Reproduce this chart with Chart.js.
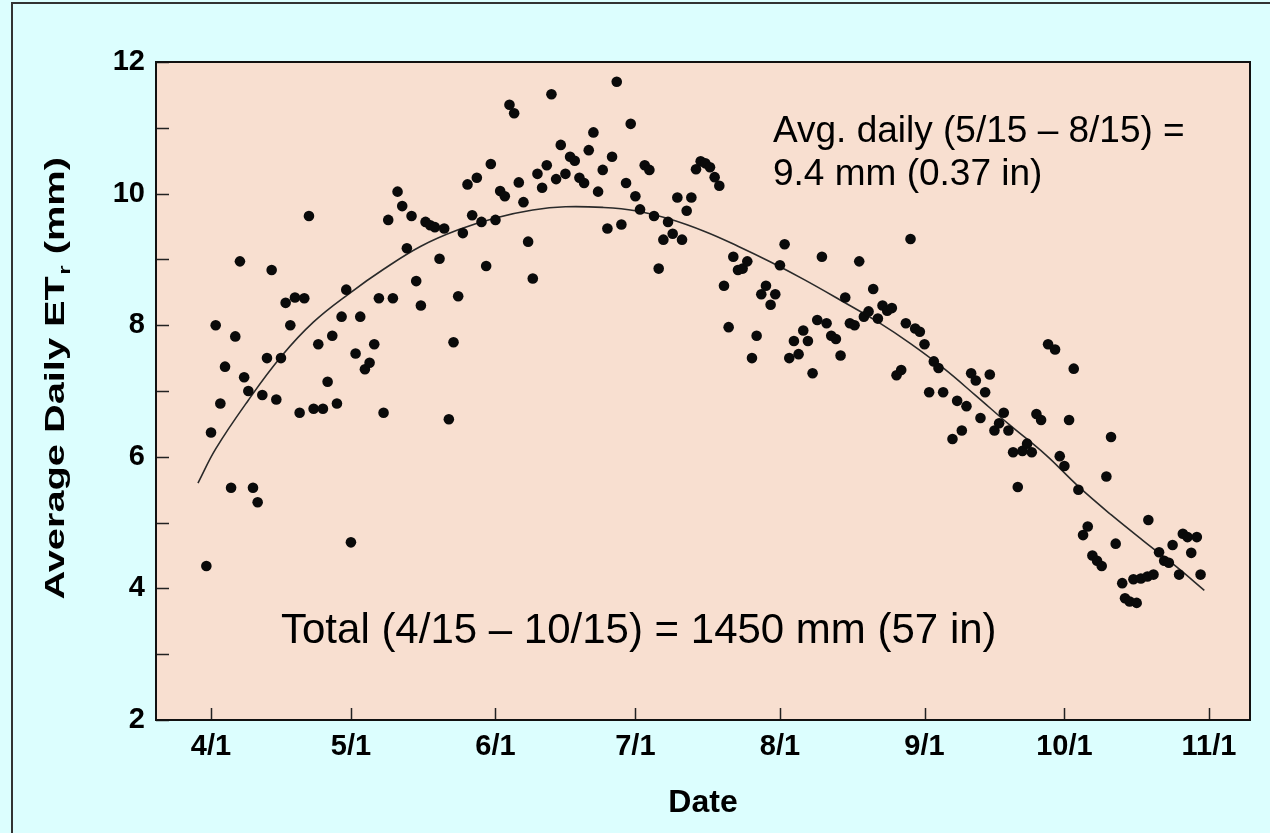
<!DOCTYPE html>
<html>
<head>
<meta charset="utf-8">
<script src="https://cdn.jsdelivr.net/npm/chart.js@4.4.0/dist/chart.umd.min.js"></script>
<style>
  html, body { margin: 0; padding: 0; background: #DCFEFE; }
</style>
</head>
<body>
<canvas id="etChart" width="1270" height="833"></canvas>
<script>
// days are counted from April 1
const pointDays = [-1, 0, 1, 2, 3, 4.3, 5.2, 6.2, 7.1, 8, 9, 10, 11, 12, 13, 14, 15, 16, 17, 18, 19, 20,
  21, 22, 23, 24, 25, 26, 27, 28, 29, 30, 31, 32, 33, 34, 35, 36, 37, 38, 39, 40, 41, 42, 43, 44, 45,
  46, 47, 48, 49, 50, 51, 52, 53, 54, 55, 56, 57, 58, 59, 60, 61, 62, 63, 64, 65, 66, 67, 68, 69, 70,
  71, 72, 73, 74, 75, 76, 77, 78, 79, 80, 81, 82, 83, 84, 85, 86, 87, 88, 89, 90, 91, 92, 93, 94, 95,
  96, 97, 98, 99, 100, 101, 102, 103, 104, 105, 106, 107, 108, 109, 110, 111, 112, 113, 114, 115, 116,
  117, 118, 119, 120, 121, 122, 123, 124, 125, 126, 127, 128, 129, 130, 131, 132, 133, 134, 135, 136,
  137, 138, 139, 140, 141, 142, 143, 144, 145, 146, 147, 148, 149, 150, 151, 152, 153, 154, 155, 156,
  157, 159, 160, 161, 162, 163, 164, 165, 166, 167, 168, 169, 170, 171, 172, 173, 174, 175, 176, 177,
  178, 179.5, 181, 182, 183, 184, 185, 186, 187, 188, 189, 190, 191, 192, 193, 194, 195.4, 196, 197,
  198.5, 197.8, 199.4, 200.8, 202.1, 201, 203.3, 204.4, 205.4, 206.2, 207.6, 208.4, 209.4, 210.2,
  211.4, 212.2];

const pointEtr = [4.34, 6.37, 8.00, 6.81, 7.37, 5.53, 7.83, 8.97, 7.21, 7.00, 5.53, 5.31, 6.94, 7.50,
  8.84, 6.87, 7.50, 8.34, 8.00, 8.42, 6.67, 8.41, 9.66, 6.73, 7.71, 6.73, 7.14, 7.84, 6.81, 8.13, 8.54,
  4.70, 7.57, 8.13, 7.33, 7.43, 7.71, 8.41, 6.67, 9.60, 8.41, 10.03, 9.81, 9.17, 9.66, 8.67, 8.30, 9.57,
  9.52, 9.49, 9.01, 9.47, 6.57, 7.74, 8.44, 9.40, 10.14, 9.67, 10.24, 9.57, 8.90, 10.45, 9.60, 10.04,
  9.96, 11.35, 11.22, 10.17, 9.87, 9.27, 8.71, 10.30, 10.09, 10.43, 11.51, 10.22, 10.74, 10.30, 10.56,
  10.50, 10.24, 10.16, 10.66, 10.93, 10.03, 10.36, 9.47, 10.56, 11.70, 9.53, 10.16, 11.06, 9.96, 9.76,
  10.43, 10.36, 9.66, 8.86, 9.30, 9.57, 9.39, 9.94, 9.30, 9.74, 9.94, 10.37, 10.49, 10.46, 10.40, 10.25,
  10.12, 8.60, 7.97, 9.04, 8.84, 8.86, 8.97, 7.50, 7.84, 8.47, 8.60, 8.31, 8.47, 8.91, 9.23, 7.50, 7.76,
  7.56, 7.92, 7.76, 7.27, 8.08, 9.04, 8.03, 7.84, 7.79, 7.54, 8.42, 8.03, 8.00, 8.97, 8.13, 8.21, 8.55,
  8.10, 8.30, 8.22, 8.26, 7.24, 7.32, 8.03, 9.31, 7.95, 7.90, 7.71, 6.98, 7.45, 7.35, 6.98, 6.27, 6.85,
  6.40, 6.77, 7.27, 7.16, 6.59, 6.98, 7.25, 6.40, 6.51, 6.67, 6.40, 6.07, 5.54, 6.09, 6.20, 6.07, 6.65,
  6.56, 7.71, 7.63, 6.01, 5.86, 6.56, 7.34, 5.50, 4.81, 4.94, 4.50, 4.42, 4.34, 5.70, 6.30, 4.68, 4.08,
  3.85, 3.80, 3.78, 4.14, 4.15, 4.18, 4.21, 5.04, 4.55, 4.42, 4.39, 4.66, 4.21, 4.83, 4.78, 4.54, 4.78,
  4.21];

// fitted seasonal curve
const fitDays = [-2.8, 1, 8, 15, 22, 30, 37, 45, 53, 61, 69, 76, 84, 91, 98, 106, 113, 120, 127, 135,
  143, 150, 157, 164, 171, 179, 186, 193, 200, 207, 213];
const fitEtr = [5.6, 6.12, 6.86, 7.52, 8.05, 8.5, 8.85, 9.2, 9.45, 9.63, 9.75, 9.8, 9.79, 9.74, 9.62,
  9.42, 9.2, 8.96, 8.7, 8.38, 8.05, 7.72, 7.35, 6.93, 6.5, 6.03, 5.55, 5.12, 4.72, 4.33, 3.97];

const tickDays = [0, 30, 61, 91, 122, 153, 183, 214];
const tickLabels = ['4/1', '5/1', '6/1', '7/1', '8/1', '9/1', '10/1', '11/1'];
const yLabelValues = [2, 4, 6, 8, 10, 12];

const avgNote = ['Avg. daily (5/15 \u2013 8/15) =', '9.4 mm (0.37 in)'];
const totalNote = 'Total (4/15 \u2013 10/15) = 1450 mm (57 in)';

const axisFont = "'Liberation Sans Narrow', 'Liberation Sans', Arial, sans-serif";
const noteFont = "'Liberation Sans', Arial, sans-serif";

// background, plot frame, inward ticks and text notes
const decorPlugin = {
  id: 'decor',
  beforeDraw(chart) {
    const ctx = chart.ctx;
    const a = chart.chartArea;
    ctx.save();
    ctx.fillStyle = '#DCFEFE';
    ctx.fillRect(0, 0, chart.width, chart.height);
    ctx.strokeStyle = '#333';
    ctx.lineWidth = 2;
    ctx.beginPath();
    ctx.moveTo(12, chart.height);
    ctx.lineTo(12, 3);
    ctx.lineTo(chart.width, 3);
    ctx.stroke();
    ctx.fillStyle = '#F8DFD0';
    ctx.fillRect(a.left, a.top, a.right - a.left, a.bottom - a.top);
    ctx.restore();
  },
  afterDatasetsDraw(chart) {
    const ctx = chart.ctx;
    const a = chart.chartArea;
    const xs = chart.scales.x;
    const ys = chart.scales.y;
    ctx.save();
    ctx.strokeStyle = '#222';
    ctx.lineWidth = 1.5;
    ctx.beginPath();
    ys.ticks.forEach(t => {
      const y = Math.round(ys.getPixelForValue(t.value)) + 0.5;
      ctx.moveTo(a.left, y);
      ctx.lineTo(a.left + 13, y);
    });
    xs.ticks.forEach(t => {
      const x = Math.round(xs.getPixelForValue(t.value)) + 0.5;
      ctx.moveTo(x, a.bottom);
      ctx.lineTo(x, a.bottom - 12);
    });
    ctx.stroke();
    ctx.lineWidth = 2;
    ctx.strokeStyle = '#111';
    ctx.strokeRect(a.left, a.top, a.right - a.left, a.bottom - a.top);

    // notes
    ctx.fillStyle = '#000';
    ctx.textAlign = 'left';
    ctx.textBaseline = 'alphabetic';
    ctx.font = '37px ' + noteFont;
    ctx.fillText(avgNote[0], 773, 142);
    ctx.fillText(avgNote[1], 773, 185);
    ctx.font = '42px ' + noteFont;
    ctx.fillText(totalNote, 281, 643);

    // y axis title with subscript r
    const main = 'Average Daily ET';
    const sub = 'r';
    const tail = ' (mm)';
    const bigFont = 'bold 28px ' + noteFont;
    const smallFont = 'bold 17px ' + noteFont;
    ctx.font = bigFont;
    const w1 = ctx.measureText(main).width;
    const w3 = ctx.measureText(tail).width;
    ctx.font = smallFont;
    const w2 = ctx.measureText(sub).width;
    const total = w1 + w2 + w3;
    ctx.translate(64, 379);
    ctx.rotate(-Math.PI / 2);
    ctx.scale(1.42, 1);
    let x = -total / 2;
    ctx.font = bigFont;
    ctx.fillText(main, x, 0);
    x += w1;
    ctx.font = smallFont;
    ctx.fillText(sub, x + 1, 6);
    x += w2 + 1;
    ctx.font = bigFont;
    ctx.fillText(tail, x, 0);
    ctx.restore();
  }
};

const ctx = document.getElementById('etChart').getContext('2d');

const scatterPoints = pointDays.map((d, i) => ({ x: d, y: pointEtr[i] }));
const fitPoints = fitDays.map((d, i) => ({ x: d, y: fitEtr[i] }));

new Chart(ctx, {
  type: 'scatter',
  data: {
    datasets: [
      {
        label: 'Daily ETr',
        data: scatterPoints,
        backgroundColor: '#0a0a0a',
        borderWidth: 0,
        pointRadius: 5.3,
        pointHoverRadius: 5.3
      },
      {
        label: 'Fit',
        data: fitPoints,
        showLine: true,
        borderColor: '#2a2a2a',
        borderWidth: 1.6,
        pointRadius: 0,
        tension: 0.4,
        fill: false
      }
    ]
  },
  options: {
    responsive: false,
    animation: false,
    layout: { padding: { top: 62, right: 20, left: 0, bottom: 0 } },
    plugins: {
      legend: { display: false },
      tooltip: { enabled: false }
    },
    scales: {
      x: {
        type: 'linear',
        min: -11.8,
        max: 222.8,
        afterBuildTicks: scale => {
          scale.ticks = tickDays.map(v => ({ value: v }));
        },
        afterFit: scale => { scale.height = 113; },
        grid: { display: false, drawTicks: false },
        border: { display: false },
        ticks: {
          autoSkip: false,
          maxRotation: 0,
          padding: 10,
          color: '#000',
          font: { family: axisFont, size: 29, weight: 'bold' },
          callback: v => tickLabels[tickDays.indexOf(v)]
        },
        title: {
          display: true,
          text: 'Date',
          color: '#000',
          font: { family: axisFont, size: 32, weight: 'bold' },
          padding: { top: 0, bottom: 11 }
        }
      },
      y: {
        min: 2,
        max: 12,
        afterFit: scale => { scale.width = 156; },
        grid: { display: false, drawTicks: false },
        border: { display: false },
        ticks: {
          stepSize: 1,
          padding: 11,
          color: '#000',
          font: { family: axisFont, size: 29, weight: 'bold' },
          callback: v => yLabelValues.includes(v) ? String(v) : ''
        }
      }
    }
  },
  plugins: [decorPlugin]
});
</script>
</body>
</html>
